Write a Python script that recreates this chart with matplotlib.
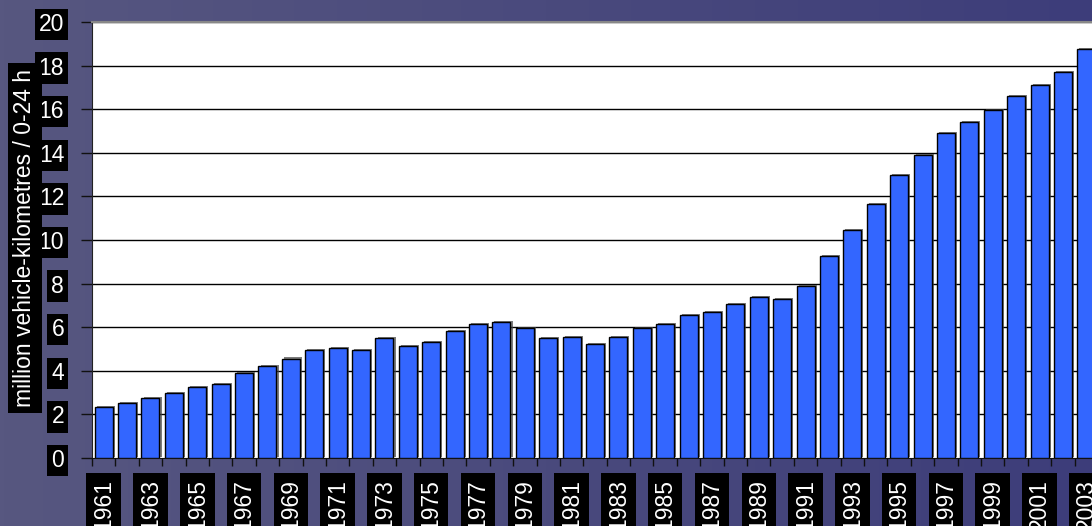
import numpy as np
import matplotlib
matplotlib.use("Agg")
import matplotlib.pyplot as plt
import matplotlib.patheffects as pe

plt.rcParams['font.family'] = ['Liberation Sans', 'DejaVu Sans']

## data
years = list(range(1961, 2004))
values = [2.33, 2.51, 2.74, 2.98, 3.24, 3.38, 3.90, 4.21, 4.56, 4.97,
          5.03, 4.97, 5.50, 5.12, 5.31, 5.81, 6.13, 6.24, 5.95, 5.49,
          5.54, 5.21, 5.54, 5.95, 6.13, 6.54, 6.68, 7.05, 7.37, 7.28,
          7.88, 9.25, 10.44, 11.64, 12.97, 13.88, 14.89, 15.40, 15.95, 16.62,
          17.10, 17.71, 18.75]
ylabel = "million vehicle-kilometres / 0-24 h"
yticks = list(range(0, 21, 2))

fig = plt.figure(figsize=(10.92, 5.26), dpi=100)

# background gradient
bg = fig.add_axes([0, 0, 1, 1], zorder=-10)
left_col = np.array([0x57, 0x57, 0x80]) / 255
right_col = np.array([0x3d, 0x3d, 0x7a]) / 255
t = np.linspace(0, 1, 256)
grad = left_col[None, :] * (1 - t[:, None]) + right_col[None, :] * t[:, None]
bg.imshow(grad[None, :, :], aspect='auto', extent=[0, 1, 0, 1])
bg.axis('off')

# plot area (runs a bit past the right edge, like the original)
ax = fig.add_axes([92 / 1092, 68 / 526, 1006 / 1092, 436 / 526])
ax.set_facecolor('white')

x = np.arange(len(years))
bars = ax.bar(x, values, width=0.77, color='#3366ff', edgecolor='black',
              linewidth=1, zorder=3)
for b in bars:
    b.set_path_effects([pe.SimplePatchShadow(offset=(1.5, 0.8), shadow_rgbFace='#444444', alpha=0.7),
                        pe.Normal()])

ax.set_xlim(-0.5, len(years) - 0.5)
ax.set_ylim(0, 20)
ax.set_yticks(yticks)
for v in yticks[1:]:
    ax.axhline(v, color='black', linewidth=1, zorder=1)

# category boundary ticks
ax.set_xticks(np.arange(-0.5, len(years), 1), minor=True)
ax.tick_params(axis='x', which='minor', length=6, width=1, color='#111111', direction='out')
ax.set_xticks(x[::2])
ax.set_xticklabels([str(y) for y in years[::2]], rotation=90, color='white', fontsize=16.5)
ax.tick_params(axis='x', which='major', length=0, pad=15)
ax.tick_params(axis='y', length=8, width=1, color='#111111', direction='out',
               labelcolor='white', labelsize=16.5, pad=12)

for lab in ax.get_xticklabels():
    lab.set_bbox(dict(boxstyle='square,pad=0.25', fc='black', ec='none'))
for lab in ax.get_yticklabels():
    lab.set_bbox(dict(boxstyle='square,pad=0.18', fc='black', ec='none'))

ax.spines['left'].set_color('#222222')
ax.spines['bottom'].set_color('#111111')
ax.spines['top'].set_color('#888888')
ax.spines['top'].set_linewidth(1.5)
ax.spines['right'].set_visible(False)

fig.text(25 / 1092, 1 - 238 / 526, ylabel, rotation=90, color='white', fontsize=16.5,
         ha='center', va='center',
         bbox=dict(boxstyle='square,pad=0.25', fc='black', ec='none'))

fig.savefig('out.png', dpi=100)
